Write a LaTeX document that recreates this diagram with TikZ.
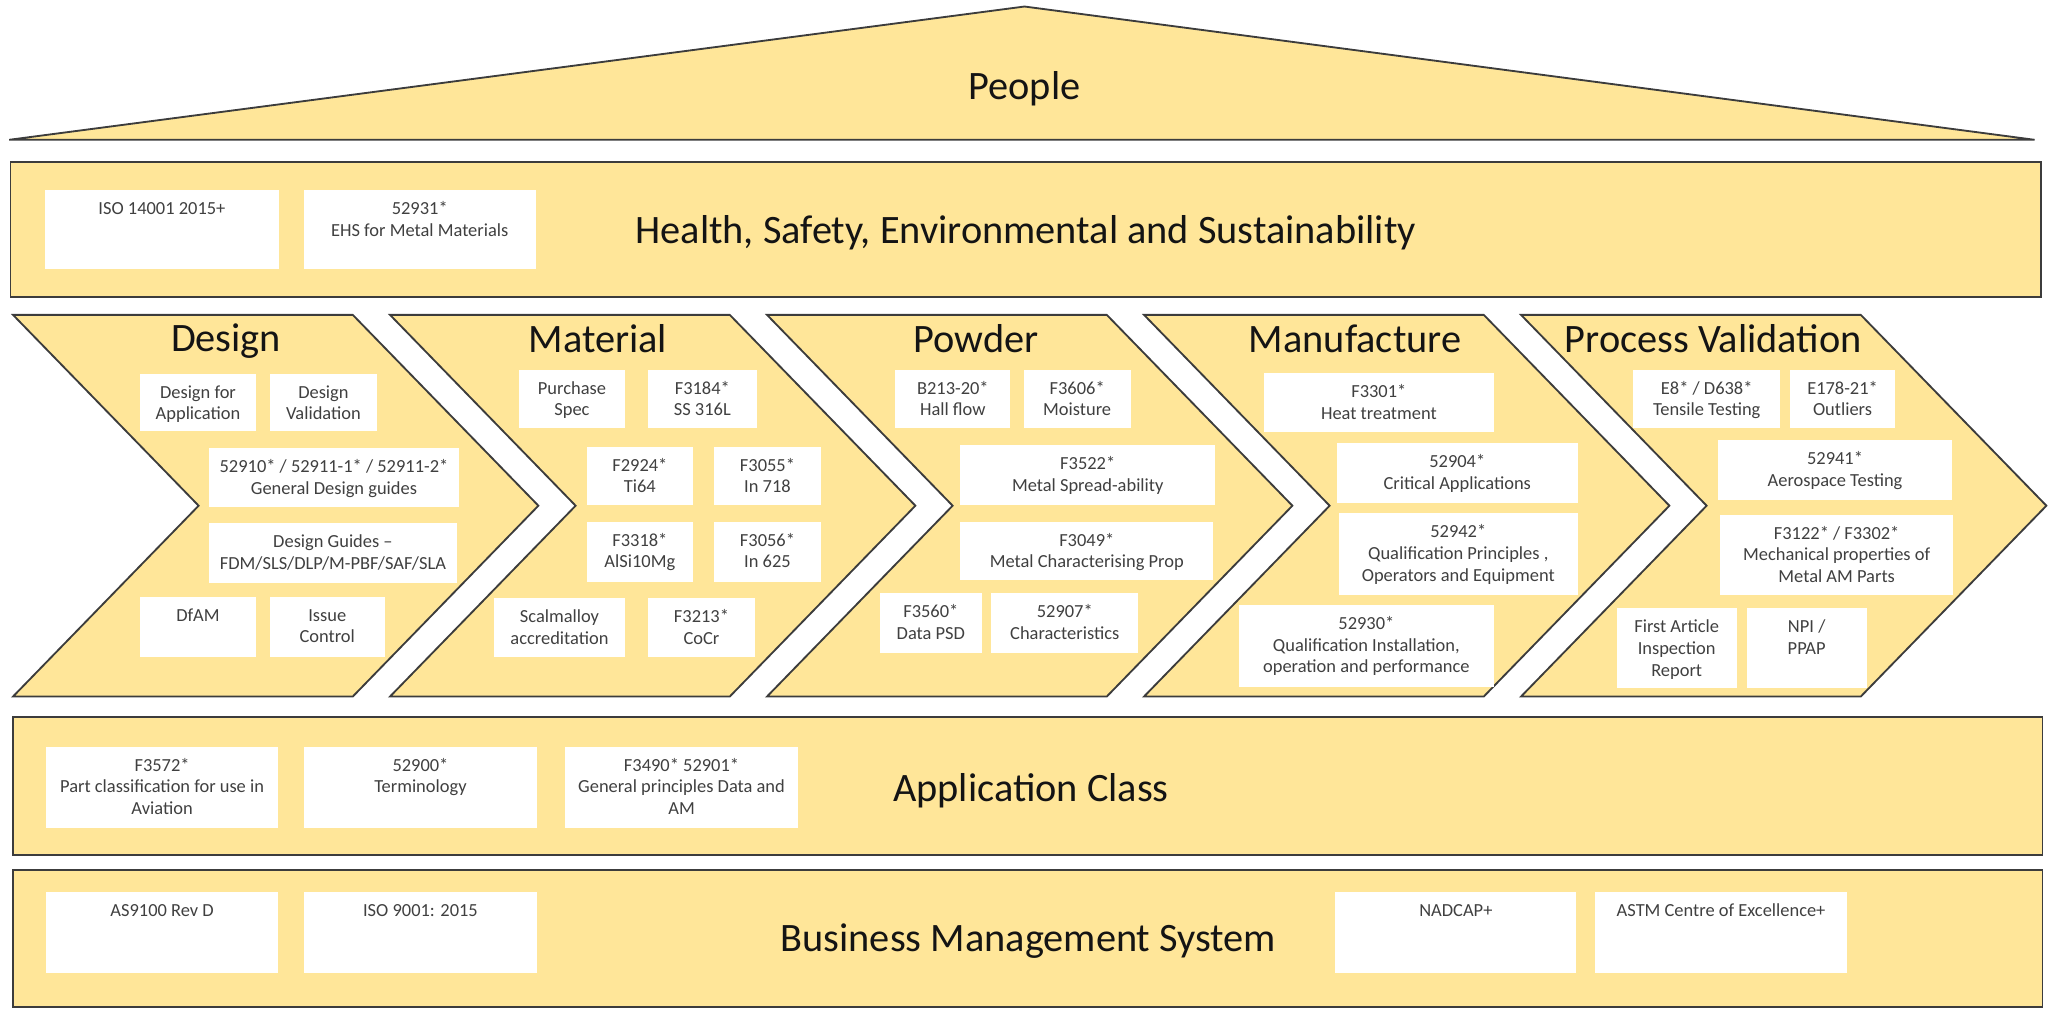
\documentclass[tikz,border=0pt]{standalone}
\usepackage{fontspec}
\setmainfont{Carlito}
\definecolor{bandfill}{HTML}{FFE699}
\definecolor{edgecol}{HTML}{3C3C3C}
\definecolor{boxtext}{HTML}{404040}
\definecolor{headtext}{HTML}{141414}

% white standard box: name, left, top, right, bottom, text (top aligned)
\newcommand\stdbox[6]{%
  \node[wb, minimum width={(#4-#2)*0.567pt}, minimum height={(#5-#3)*0.567pt}]
    (#1) at ({(#2+#4)/2},{(#3+#5)/2}) {};
  \node[bt] (#1-t) at ([yshift=-3.9pt]#1.north) {\rule{0pt}{6.5pt}#6};
}
% chevron with its left edge at x = #1
\newcommand\chevron[1]{%
  \draw[band] (#1,241) -- ++(260,0) -- ++(142,146) -- ++(-142,146)
    -- ++(-260,0) -- ++(142,-146) -- cycle;
}

\begin{document}
\begin{tikzpicture}[x=0.567pt, y=-0.567pt,
  band/.style={fill=bandfill, draw=edgecol, line width=0.8pt, line join=miter},
  wb/.style={fill=white, draw=none, inner sep=0pt, outer sep=0pt},
  bt/.style={anchor=north, align=center, inner sep=0pt,
    font=\fontsize{8}{9.4}\selectfont, text=boxtext},
  head/.style={anchor=base, inner sep=0pt,
    font=\fontsize{17.5}{21}\selectfont, text=headtext}]

\useasboundingbox (0,0) rectangle (1568,773);

% roof
\draw[band] (7,107) -- (784,5) -- (1557,107) -- cycle;
\node[head] (people) at (784,76) {People};

% health and safety layer
\draw[band] (8,123.7) rectangle (1562,227);
\stdbox{h1}{34.2}{145.4}{213.6}{206}{ISO 14001 2015+}
\stdbox{h2}{232.4}{145.4}{410}{206}{52931*\\EHS for Metal Materials}
\node[head] (hse) at (785,186) {Health, Safety, Environmental and Sustainability};

% process chevrons
\chevron{10}
\chevron{298.5}
\chevron{587}
\chevron{875.5}
\chevron{1164}

\node[head] (design) at (173,269) {Design};
\node[head] (material) at (457.5,270) {Material};
\node[head] (powder) at (747,270) {Powder};
\node[head] (manufacture) at (1037,270) {Manufacture};
\node[head] (validation) at (1311,270) {Process Validation};

% design
\stdbox{d1}{107}{286}{196}{330}{Design for\\Application}
\stdbox{d2}{206.5}{286}{288.5}{330}{Design\\Validation}
\stdbox{d3}{159.6}{343}{351.5}{388}{52910* / 52911-1* / 52911-2*\\General Design guides}
\stdbox{d4}{159.6}{400.5}{350}{446.4}{Design Guides –\\FDM/SLS/DLP/M-PBF/SAF/SLA}
\stdbox{d5}{107}{456.6}{196}{502.5}{DfAM}
\stdbox{d6}{206.5}{456.6}{294.4}{502.5}{Issue\\Control}

% material
\stdbox{m1}{397.4}{283}{478}{327.8}{Purchase\\Spec}
\stdbox{m2}{495.8}{283}{579.1}{327.8}{F3184*\\SS 316L}
\stdbox{m3}{449.3}{341.8}{530}{386.4}{F2924*\\Ti64}
\stdbox{m4}{546.3}{341.8}{628.3}{386.4}{F3055*\\In 718}
\stdbox{m5}{449.3}{399.2}{530}{445.1}{F3318*\\AlSi10Mg}
\stdbox{m6}{546.3}{399.2}{628.3}{445.1}{F3056*\\In 625}
\stdbox{m7}{378.3}{457.9}{478}{502.5}{Scalmalloy\\accreditation}
\stdbox{m8}{495.8}{457.9}{577.8}{502.5}{F3213*\\CoCr}

% powder
\stdbox{p1}{685.2}{283}{773.1}{327.8}{B213-20*\\Hall flow}
\stdbox{p2}{783.3}{283}{865.3}{327.8}{F3606*\\Moisture}
\stdbox{p3}{735}{340.5}{929.8}{386.4}{F3522*\\Metal Spread-ability}
\stdbox{p4}{735}{399.2}{928.3}{443.8}{F3049*\\Metal Characterising Prop}
\stdbox{p5}{673.5}{454}{751.1}{500}{F3560*\\Data PSD}
\stdbox{p6}{758.4}{454}{871.2}{500}{52907*\\Characteristics}

% manufacture
\stdbox{f1}{967.3}{285.7}{1143}{330.3}{F3301*\\Heat treatment}
\stdbox{f2}{1022.9}{339.2}{1207.5}{385.2}{52904*\\Critical Applications}
\stdbox{f3}{1024.4}{392.8}{1207.5}{455.3}{52942*\\Qualification Principles ,\\Operators and Equipment}
\stdbox{f4}{948.2}{463}{1143}{525.5}{52930*\\Qualification Installation,\\operation and performance}

% process validation
\stdbox{v1}{1249.9}{283}{1362.2}{327.8}{E8* / D638*\\Tensile Testing}
\stdbox{v2}{1369.8}{283}{1450.2}{327.8}{E178-21*\\Outliers}
\stdbox{v3}{1315}{336.7}{1493.5}{382.6}{52941*\\Aerospace Testing}
\stdbox{v4}{1316.2}{394}{1494.8}{455.3}{F3122* / F3302*\\Mechanical properties of\\Metal AM Parts}
\stdbox{v5}{1237.2}{465.5}{1329}{526.8}{First Article\\Inspection\\Report}
\stdbox{v6}{1336.6}{465.5}{1428.5}{526.8}{NPI /\\PPAP}

% application class layer
\draw[band] (10,548.4) rectangle (1563,654.3);
\stdbox{a1}{35.1}{571.4}{213}{633.9}{F3572*\\Part classification for use in\\Aviation}
\stdbox{a2}{232.8}{571.4}{410.7}{633.9}{52900*\\Terminology}
\stdbox{a3}{432.6}{571.4}{610.5}{633.9}{F3490* 52901*\\General principles Data and\\AM}
\node[head] (appclass) at (789,613) {Application Class};

% business management layer
\draw[band] (10,665.7) rectangle (1563,770.3);
\stdbox{b1}{35.1}{682.3}{213}{744.8}{AS9100 Rev D}
\stdbox{b2}{232.8}{682.3}{410.7}{744.8}{ISO 9001: 2015}
\stdbox{b3}{1021.9}{682.3}{1206.3}{744.8}{NADCAP+}
\stdbox{b4}{1220.7}{682.3}{1413.4}{744.8}{ASTM Centre of Excellence+}
\node[head] (bms) at (787,728) {Business Management System};

\end{tikzpicture}
\end{document}
